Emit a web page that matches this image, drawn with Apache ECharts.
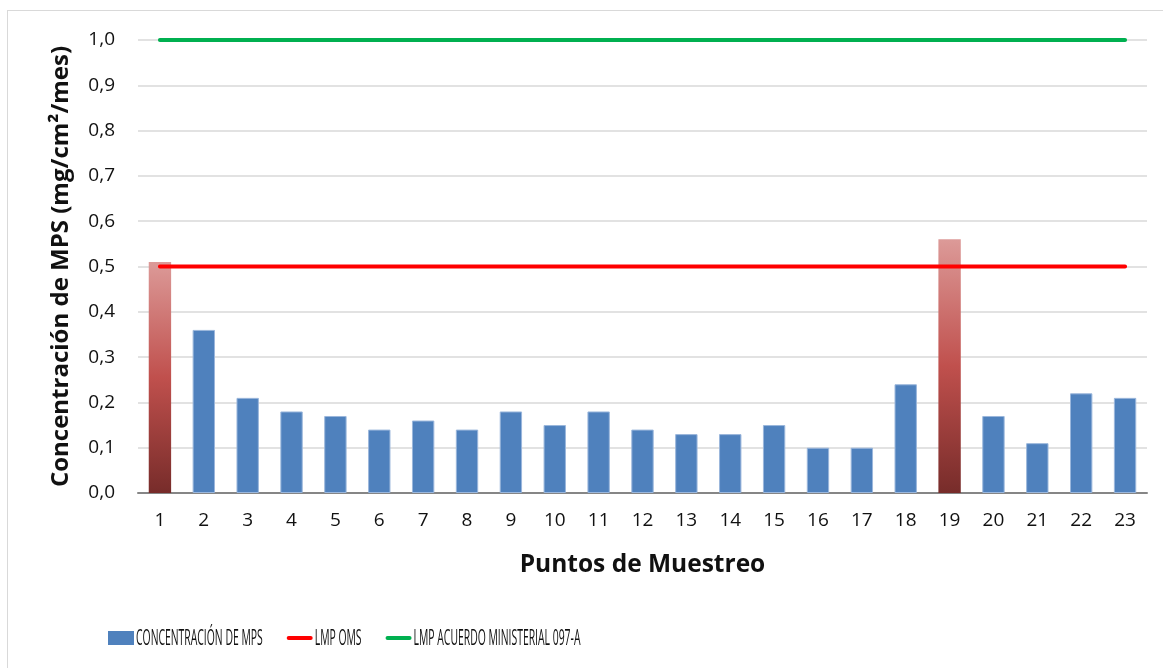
<!DOCTYPE html>
<html>
<head>
<meta charset="utf-8">
<script src="https://cdn.jsdelivr.net/npm/echarts@6/dist/echarts.min.js"></script>
<style>
  html, body { margin: 0; padding: 0; background: #fff; overflow: hidden; }
  #frame { position: absolute; left: 7px; top: 10px; width: 1200px; height: 700px;
           border: 1.5px solid #d9d9d9; box-sizing: border-box; }
  #chart { position: absolute; left: 0; top: 0; width: 1163px; height: 668px; }
</style>
</head>
<body>
<div id="frame"></div>
<div id="chart"></div>
<script>
// Sampling points
const puntos = ['1','2','3','4','5','6','7','8','9','10','11','12','13','14','15','16','17','18','19','20','21','22','23'];
// Dust concentration (mg/cm²/month) per point
const concentracion = [0.51,0.36,0.21,0.18,0.17,0.14,0.16,0.14,0.18,0.15,0.18,0.14,0.13,0.13,0.15,0.10,0.10,0.24,0.56,0.17,0.11,0.22,0.21];
// Limits
const lmpOms = [0.5,0.5,0.5,0.5,0.5,0.5,0.5,0.5,0.5,0.5,0.5,0.5,0.5,0.5,0.5,0.5,0.5,0.5,0.5,0.5,0.5,0.5,0.5];
const lmpAcuerdo = [1,1,1,1,1,1,1,1,1,1,1,1,1,1,1,1,1,1,1,1,1,1,1];
const limiteOms = 0.5;
const seriesNames = ['CONCENTRACIÓN DE MPS', 'LMP OMS', 'LMP ACUERDO MINISTERIAL 097-A'];

const FONT = '"Open Sans", sans-serif';
const TXT = '#111';
const BLUE = '#4f81bd', RED = '#ff0000', GREEN = '#00b050';

const exceedGradient = new echarts.graphic.LinearGradient(0, 0, 0, 1, [
  { offset: 0, color: '#dc9a98' },
  { offset: 0.5, color: '#c0504d' },
  { offset: 1, color: '#772c2a' }
]);

const barData = concentracion.map(v => v > limiteOms
  ? { value: v, itemStyle: { color: exceedGradient, borderWidth: 0 } }
  : v);

// Legend: condensed labels, built from graphic elements
const LEG_FONT_SIZE = 21;
const LEG_SCALE = 0.495;
const measure = (() => {
  const ctx = document.createElement('canvas').getContext('2d');
  ctx.font = LEG_FONT_SIZE + 'px "Open Sans"';
  return t => ctx.measureText(t).width;
})();
const legendItems = [];
{
  const y = 638, iconW = 26, textGap = 2, itemGap = 24;
  let x = 108;
  seriesNames.forEach((name, i) => {
    if (i === 0) {
      legendItems.push({ type: 'rect', shape: { x: x, y: y - 7, width: iconW, height: 14 }, style: { fill: BLUE } });
    } else {
      legendItems.push({ type: 'line', shape: { x1: x + 2, y1: y, x2: x + iconW - 2, y2: y },
        style: { stroke: i === 1 ? RED : GREEN, lineWidth: 4, lineCap: 'round' } });
    }
    x += iconW + textGap;
    legendItems.push({ type: 'text', x: x, y: y + 1, scaleX: LEG_SCALE,
      style: { text: name, font: LEG_FONT_SIZE + 'px "Open Sans"', fill: TXT, verticalAlign: 'middle', align: 'left' } });
    x += measure(name) * LEG_SCALE + itemGap;
  });
}

const chart = echarts.init(document.getElementById('chart'));
chart.setOption({
  animation: false,
  textStyle: { fontFamily: FONT, color: TXT },
  grid: { left: 138, right: 16, top: 40, bottom: 175 },
  xAxis: {
    type: 'category',
    data: puntos,
    boundaryGap: true,
    axisLine: { lineStyle: { color: '#868686', width: 2 } },
    axisTick: { show: false },
    axisLabel: { fontSize: 19, color: TXT, margin: 18, fontFamily: FONT },
    name: 'Puntos de Muestreo',
    nameLocation: 'middle',
    nameGap: 60,
    nameTextStyle: { fontSize: 24.5, fontWeight: 'bold', color: TXT, fontFamily: FONT }
  },
  yAxis: {
    type: 'value',
    min: 0, max: 1, interval: 0.1,
    axisLine: { show: false },
    axisTick: { show: false },
    splitLine: { lineStyle: { color: '#d9d9d9', width: 1.5 } },
    axisLabel: {
      fontSize: 19, color: TXT, margin: 23, fontFamily: FONT,
      formatter: v => v.toFixed(1).replace('.', ',')
    },
    name: 'Concentración de MPS (mg/cm²/mes)',
    nameLocation: 'middle',
    nameGap: 65,
    nameTextStyle: { fontSize: 24, fontWeight: 'bold', color: TXT, fontFamily: FONT }
  },
  graphic: legendItems,
  series: [
    {
      name: seriesNames[0],
      type: 'bar',
      data: barData,
      barWidth: '51%',
      itemStyle: { color: BLUE, borderColor: '#9bb7dc', borderWidth: 1 }
    },
    {
      name: seriesNames[1],
      type: 'line',
      data: lmpOms,
      symbol: 'none',
      lineStyle: { color: RED, width: 4, cap: 'round' }
    },
    {
      name: seriesNames[2],
      type: 'line',
      data: lmpAcuerdo,
      symbol: 'none',
      lineStyle: { color: GREEN, width: 4, cap: 'round' }
    }
  ]
});
</script>
</body>
</html>
